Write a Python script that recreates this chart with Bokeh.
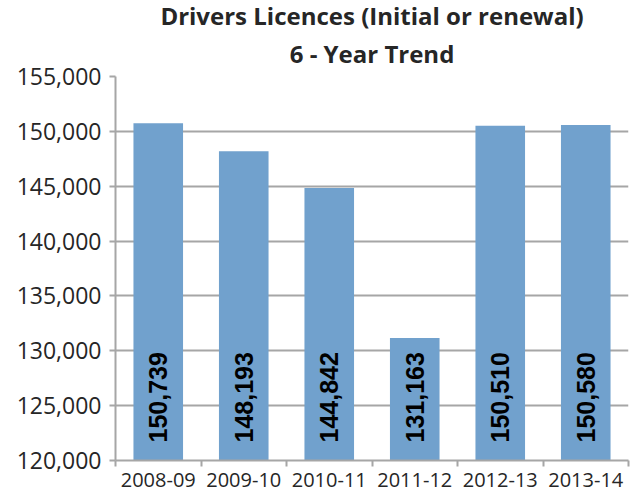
from bokeh.plotting import figure
from bokeh.models import Range1d, FixedTicker, NumeralTickFormatter, ColumnDataSource, Title
from bokeh.core.properties import value
from bokeh.embed import file_html
from bokeh.resources import INLINE
import math

title_lines = ["Drivers Licences (Initial or renewal)", "6 - Year Trend"]
years = ["2008-09", "2009-10", "2010-11", "2011-12", "2012-13", "2013-14"]
licences = [150739, 148193, 144842, 131163, 150510, 150580]
labels = ["150,739", "148,193", "144,842", "131,163", "150,510", "150,580"]
y_ticks = [120000, 125000, 130000, 135000, 140000, 145000, 150000, 155000]

xs = [i + 0.5 for i in range(len(years))]
src = ColumnDataSource(dict(x=xs, top=licences, label=labels,
                            base=[y_ticks[0]] * len(years)))

p = figure(width=632, height=495, output_backend="svg", toolbar_location=None,
           title=None,
           x_range=Range1d(0, len(years)), y_range=Range1d(y_ticks[0], y_ticks[-1]),
           min_border_left=115, min_border_top=76, min_border_bottom=35, min_border_right=4)
p.outline_line_color = None
p.background_fill_color = "white"
p.border_fill_color = "white"

standoffs = [-9, 14]
for line, so in reversed(list(zip(title_lines, standoffs))):
    p.add_layout(Title(text=line, align="center", text_font="Open Sans",
                       text_font_size="24px", text_font_style="bold",
                       text_line_height=1.0,
                       text_color="#262626", standoff=so), "above")

p.vbar(x="x", top="top", bottom=y_ticks[0], width=0.58, source=src,
       fill_color="#71a1cd", line_color=None)

p.text(x="x", y="base", text="label", source=src, angle=math.pi / 2,
       text_align="left", text_baseline="middle", y_offset=-18,
       text_font=value("Liberation Sans"), text_font_style="bold",
       text_font_size="25px", text_color="black")

# y axis
p.yaxis.ticker = FixedTicker(ticks=y_ticks)
p.yaxis.formatter = NumeralTickFormatter(format="0,0")
p.yaxis.major_label_text_font = "Open Sans"
p.yaxis.major_label_text_font_size = "23px"
p.yaxis.major_label_text_color = "#262626"
p.yaxis.axis_line_color = "#a6a6a6"
p.yaxis.axis_line_width = 2
p.yaxis.major_tick_line_color = "#a6a6a6"
p.yaxis.major_tick_line_width = 2
p.yaxis.major_tick_out = 6
p.yaxis.major_tick_in = 0
p.yaxis.minor_tick_line_color = None
p.yaxis.major_label_standoff = 8

# x axis
p.xaxis.ticker = FixedTicker(ticks=xs, minor_ticks=list(range(len(years) + 1)))
p.xaxis.major_label_overrides = {x: y for x, y in zip(xs, years)}
p.xaxis.major_label_text_font = "Open Sans"
p.xaxis.major_label_text_font_size = "20px"
p.xaxis.major_label_text_color = "#262626"
p.xaxis.axis_line_color = "#a6a6a6"
p.xaxis.axis_line_width = 2
p.xaxis.major_tick_line_color = None
p.xaxis.minor_tick_line_color = "#a6a6a6"
p.xaxis.minor_tick_line_width = 2
p.xaxis.minor_tick_out = 6
p.xaxis.minor_tick_in = 0
p.xaxis.major_label_standoff = 6

p.xgrid.grid_line_color = None
p.ygrid.grid_line_color = "#a6a6a6"
p.ygrid.grid_line_width = 2

open("out.html", "w").write(file_html(p, INLINE))
